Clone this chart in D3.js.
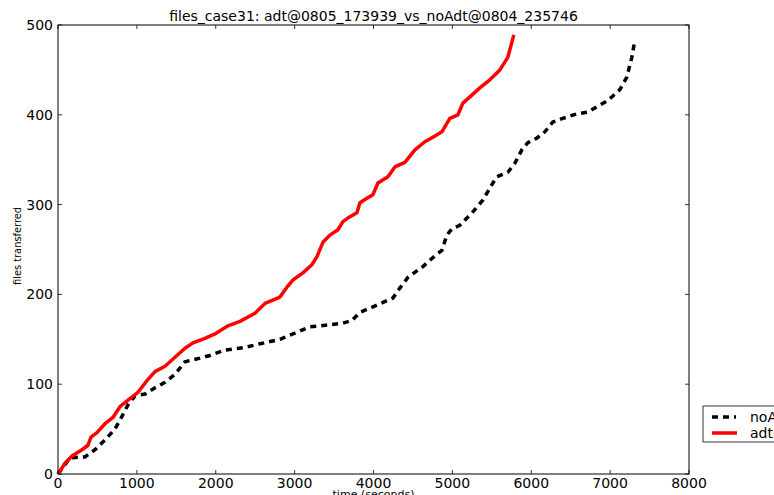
<!DOCTYPE html>
<html>
<head>
<meta charset="utf-8">
<script src="https://cdn.jsdelivr.net/npm/d3@7"></script>
<style>
  body { margin: 0; background: #fff; }
  svg { display: block; font-family: "DejaVu Sans", sans-serif; }
</style>
</head>
<body>
<div id="chart"></div>
<script>
// adt run (red, solid)
const adtTime = [0, 89, 177, 304, 380, 418, 494, 596, 697, 786, 912, 1014, 1128, 1229, 1356, 1483,
  1610, 1711, 1863, 1990, 2155, 2307, 2497, 2624, 2814, 2902, 2978, 3105, 3219, 3283, 3359, 3447,
  3549, 3612, 3675, 3790, 3828, 3916, 3992, 4056, 4183, 4271, 4398, 4525, 4651, 4753, 4867, 4968,
  5070, 5133, 5222, 5348, 5475, 5602, 5703, 5779];
const adtFiles = [0, 12, 20, 27, 32, 41, 46, 56, 63, 75, 84, 91, 104, 114, 120, 130,
  140, 146, 151, 156, 165, 170, 179, 190, 197, 208, 216, 224, 233, 242, 258, 266,
  272, 281, 285, 291, 302, 307, 311, 324, 331, 342, 347, 361, 370, 375, 381, 396,
  400, 413, 420, 430, 439, 450, 464, 489];

// noAdt run (black, dashed)
const noAdtTime = [0, 152, 342, 469, 596, 722, 786, 887, 976, 1103, 1229, 1356, 1483, 1610, 1800,
  1926, 2117, 2370, 2560, 2814, 3004, 3194, 3321, 3612, 3726, 3828, 4043, 4246, 4334, 4436, 4626,
  4753, 4867, 4930, 4994, 5095, 5260, 5386, 5513, 5564, 5703, 5792, 5881, 5957, 6071, 6172, 6274,
  6400, 6578, 6717, 6831, 6971, 7123, 7212, 7275, 7313];
const noAdtFiles = [0, 18, 19, 27, 38, 50, 60, 77, 87, 89, 96, 102, 111, 125, 129,
  132, 138, 141, 145, 150, 157, 164, 165, 168, 171, 180, 188, 196, 207, 219, 231,
  241, 249, 266, 273, 277, 292, 305, 324, 331, 336, 346, 361, 369, 374, 381, 392,
  396, 401, 403, 409, 416, 428, 442, 464, 483];

const xTicks = [0, 1000, 2000, 3000, 4000, 5000, 6000, 7000, 8000];
const yTicks = [0, 100, 200, 300, 400, 500];
const chartTitle = "files_case31: adt@0805_173939_vs_noAdt@0804_235746";
const legendLabels = ["noAdt@0804_235746", "adt@0805_173939"];

const W = 774, H = 495;
const margin = { top: 25, right: 85, bottom: 21, left: 58 };
const width = W - margin.left - margin.right;
const height = H - margin.top - margin.bottom;

const svg = d3.select('#chart').append('svg')
  .attr('width', W)
  .attr('height', H);

const g = svg.append('g')
  .attr('transform', 'translate(' + margin.left + ',' + margin.top + ')');

const x = d3.scaleLinear().domain([0, 8000]).range([0, width]);
const y = d3.scaleLinear().domain([0, 500]).range([height, 0]);

// tick marks inside on all four sides
const tickLen = 4;
xTicks.forEach(t => {
  g.append('line').attr('x1', x(t)).attr('x2', x(t)).attr('y1', height).attr('y2', height - tickLen)
    .attr('stroke', '#000').attr('stroke-width', 0.8);
  g.append('line').attr('x1', x(t)).attr('x2', x(t)).attr('y1', 0).attr('y2', tickLen)
    .attr('stroke', '#000').attr('stroke-width', 0.8);
  g.append('text').attr('x', x(t)).attr('y', height + 14)
    .attr('text-anchor', 'middle').attr('font-size', 14).text(t);
});
yTicks.forEach(t => {
  g.append('line').attr('x1', 0).attr('x2', tickLen).attr('y1', y(t)).attr('y2', y(t))
    .attr('stroke', '#000').attr('stroke-width', 0.8);
  g.append('line').attr('x1', width).attr('x2', width - tickLen).attr('y1', y(t)).attr('y2', y(t))
    .attr('stroke', '#000').attr('stroke-width', 0.8);
  g.append('text').attr('x', -5).attr('y', y(t) + 5)
    .attr('text-anchor', 'end').attr('font-size', 14).text(t);
});

const line = d3.line()
  .x(d => x(d[0]))
  .y(d => y(d[1]));

g.append('path')
  .datum(noAdtTime.map((t, i) => [t, noAdtFiles[i]]))
  .attr('fill', 'none')
  .attr('stroke', '#000')
  .attr('stroke-width', 3.5)
  .attr('stroke-dasharray', '6,5')
  .attr('d', line);

g.append('path')
  .datum(adtTime.map((t, i) => [t, adtFiles[i]]))
  .attr('fill', 'none')
  .attr('stroke', '#ff0000')
  .attr('stroke-width', 3.5)
  .attr('stroke-linejoin', 'round')
  .attr('d', line);

g.append('rect')
  .attr('x', 0).attr('y', 0).attr('width', width).attr('height', height)
  .attr('fill', 'none').attr('stroke', '#000').attr('stroke-width', 1);

svg.append('text')
  .attr('x', margin.left + width / 2).attr('y', 21)
  .attr('text-anchor', 'middle').attr('font-size', 14)
  .text(chartTitle);

svg.append('text')
  .attr('x', margin.left + width / 2).attr('y', 498)
  .attr('text-anchor', 'middle').attr('font-size', 11)
  .text('time (seconds)');

svg.append('text')
  .attr('transform', 'translate(21,246) rotate(-90)')
  .attr('text-anchor', 'middle').attr('font-size', 11)
  .attr('textLength', 78).attr('lengthAdjust', 'spacingAndGlyphs')
  .text('files transferred');

// legend, partly outside the window like the original
const leg = svg.append('g').attr('transform', 'translate(703,406)');
leg.append('rect').attr('x', 0).attr('y', 0).attr('width', 200).attr('height', 36)
  .attr('fill', '#fff').attr('stroke', '#000').attr('stroke-width', 0.8);
leg.append('line').attr('x1', 9).attr('x2', 33).attr('y1', 11).attr('y2', 11)
  .attr('stroke', '#000').attr('stroke-width', 3.5).attr('stroke-dasharray', '6,5');
leg.append('line').attr('x1', 9).attr('x2', 34).attr('y1', 27).attr('y2', 27)
  .attr('stroke', '#ff0000').attr('stroke-width', 3.5);
legendLabels.forEach((s, i) => {
  leg.append('text').attr('x', 47).attr('y', 16 + i * 16)
    .attr('font-size', 14).text(s);
});
</script>
</body>
</html>
